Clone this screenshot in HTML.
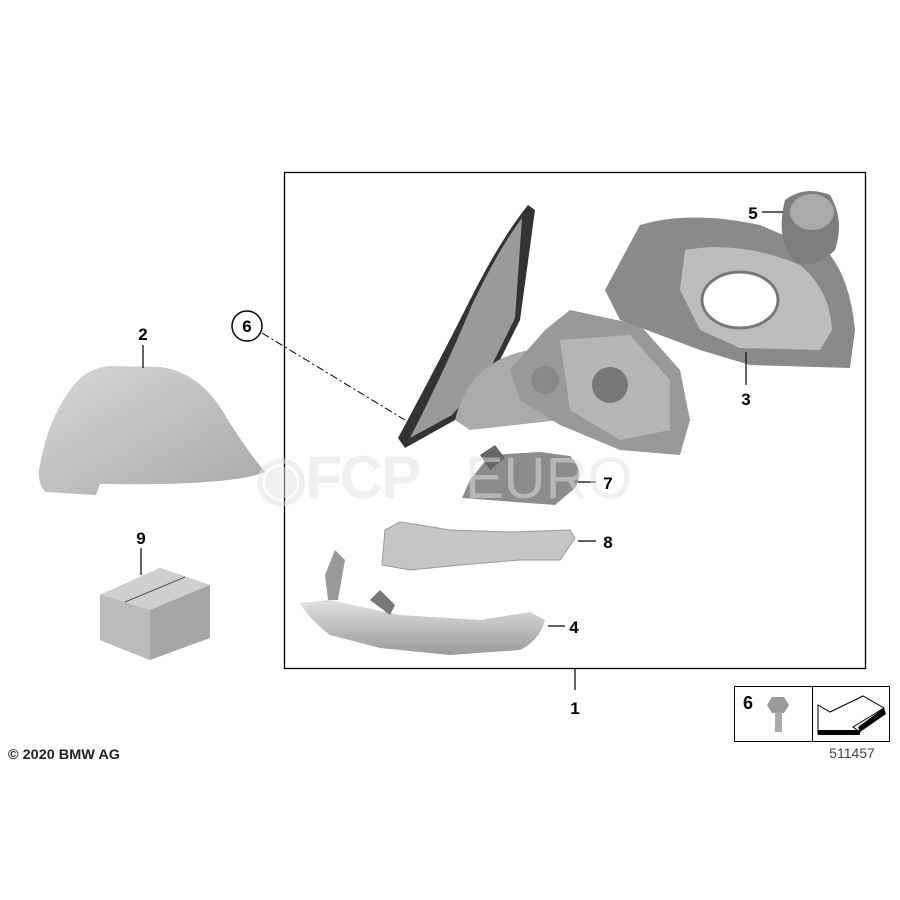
<!DOCTYPE html>
<html><head><style>
html,body{margin:0;padding:0;background:#fff;}
svg{display:block;font-family:"Liberation Sans",sans-serif;}
</style></head><body>
<svg width="900" height="900" viewBox="0 0 900 900" xmlns="http://www.w3.org/2000/svg">
<defs>
<linearGradient id="g1" x1="0" y1="0" x2="1" y2="1"><stop offset="0" stop-color="#d8d8d8"/><stop offset="1" stop-color="#a8a8a8"/></linearGradient>
<linearGradient id="g2" x1="0" y1="0" x2="0" y2="1"><stop offset="0" stop-color="#e2e2e2"/><stop offset="1" stop-color="#9a9a9a"/></linearGradient>
</defs>
<rect width="900" height="900" fill="#fff"/>
<rect x="284.5" y="172.5" width="581" height="496" fill="none" stroke="#000" stroke-width="1.3"/>
<line x1="575" y1="669" x2="575" y2="690" stroke="#000" stroke-width="1.2"/>
<!-- cap 2 -->
<path d="M40,465 Q48,420 70,390 Q85,368 110,366 L160,367 Q200,372 225,415 Q245,448 265,472 Q230,486 100,484 L96,495 L45,492 Q36,480 40,465 Z" fill="url(#g1)"/>
<line x1="143" y1="345" x2="143" y2="368" stroke="#000" stroke-width="1.2"/>
<text x="143" y="340" font-size="17" font-weight="bold" text-anchor="middle">2</text>
<!-- box 9 -->
<polygon points="100,595 160,568 210,585 210,638 150,660 100,640" fill="#a5a5a5"/>
<polygon points="100,595 160,568 210,585 150,610" fill="#cfcfcf"/>
<polygon points="100,595 150,610 150,660 100,640" fill="#bbb"/>
<line x1="125" y1="602" x2="185" y2="577" stroke="#555"/>
<line x1="141" y1="548" x2="141" y2="575" stroke="#000" stroke-width="1.2"/>
<text x="141" y="544" font-size="17" font-weight="bold" text-anchor="middle">9</text>
<!-- mirror base triangle -->
<path d="M528,205 L535,210 L520,320 L490,380 L455,420 L405,448 L398,438 Q440,360 470,300 Q500,240 528,205 Z" fill="#333"/>
<path d="M522,218 L515,318 L487,375 L452,415 L410,438 Q445,370 472,305 Q498,250 522,218 Z" fill="#9a9a9a"/>
<path d="M455,420 Q470,360 530,350 L570,360 L560,420 L470,430 Z" fill="#aaa"/>
<!-- glass holder -->
<path d="M545,330 L570,310 L640,325 L680,370 L690,420 L680,455 L620,450 L560,425 L520,400 L510,370 Z" fill="#999"/>
<path d="M560,340 L630,335 L670,380 L670,430 L620,440 L570,410 Z" fill="#b5b5b5"/>
<circle cx="545" cy="380" r="14" fill="#888"/>
<circle cx="610" cy="385" r="18" fill="#777"/>
<!-- housing 3 -->
<path d="M605,290 L640,225 Q690,210 760,225 L830,255 Q850,280 855,330 L850,368 L750,365 L700,350 L620,320 Z" fill="#8a8a8a"/>
<path d="M685,250 Q740,240 800,265 Q830,290 832,330 L820,350 L740,348 L700,330 L680,290 Z" fill="#bdbdbd"/>
<ellipse cx="740" cy="300" rx="38" ry="28" fill="#fff" stroke="#777" stroke-width="3"/>
<line x1="746" y1="352" x2="746" y2="385" stroke="#000" stroke-width="1.2"/>
<text x="746" y="405" font-size="17" font-weight="bold" text-anchor="middle">3</text>
<!-- motor 5 -->
<path d="M785,200 Q805,185 830,195 Q845,220 835,250 Q815,270 795,262 Q775,240 785,200 Z" fill="#7d7d7d"/>
<ellipse cx="812" cy="212" rx="22" ry="18" fill="#aaa"/>
<line x1="762" y1="212" x2="783" y2="212" stroke="#000" stroke-width="1.2"/>
<text x="753" y="219" font-size="17" font-weight="bold" text-anchor="middle">5</text>
<!-- callout 6 -->
<circle cx="247" cy="326" r="15" fill="#fff" stroke="#000" stroke-width="1.5"/>
<text x="247" y="332" font-size="17" font-weight="bold" text-anchor="middle">6</text>
<line x1="262" y1="333" x2="405" y2="420" stroke="#000" stroke-width="1" stroke-dasharray="8,3,2,3"/>
<!-- part 7 -->
<path d="M470,480 L490,455 L540,452 L570,456 Q585,470 575,488 L555,505 L462,498 Z" fill="#8c8c8c"/>
<path d="M480,455 L495,445 L505,458 L490,470 Z" fill="#666"/>
<line x1="578" y1="482" x2="596" y2="482" stroke="#000" stroke-width="1.2"/>
<text x="608" y="489" font-size="17" font-weight="bold" text-anchor="middle">7</text>
<!-- part 8 -->
<path d="M385,530 L400,522 L420,525 L450,530 L510,532 L570,530 L575,538 L560,560 L520,560 L460,565 L410,570 L382,565 Z" fill="#c6c6c6" stroke="#999"/>
<line x1="578" y1="541" x2="596" y2="541" stroke="#000" stroke-width="1.2"/>
<text x="608" y="548" font-size="17" font-weight="bold" text-anchor="middle">8</text>
<!-- part 4 -->
<path d="M300,603 L330,600 L400,615 L480,620 L530,612 L545,620 Q540,640 520,650 L450,655 L380,648 L330,635 Q310,620 300,603 Z" fill="url(#g2)"/>
<path d="M325,575 L335,550 L345,560 L338,600 L328,600 Z" fill="#999"/>
<path d="M370,600 L380,590 L395,605 L390,615 Z" fill="#777"/>
<line x1="548" y1="626" x2="565" y2="626" stroke="#000" stroke-width="1.2"/>
<text x="574" y="633" font-size="17" font-weight="bold" text-anchor="middle">4</text>
<text x="575" y="714" font-size="17" font-weight="bold" text-anchor="middle">1</text>
<!-- watermark -->
<text x="255" y="498" font-size="60" fill="#e2e2e2" fill-opacity="0.5" font-weight="bold" letter-spacing="-2">◉FCP</text>
<text x="465" y="498" font-size="58" fill="#e2e2e2" fill-opacity="0.5">EURO</text>
<!-- small box -->
<rect x="734.5" y="686.5" width="155" height="55" fill="#fff" stroke="#000" stroke-width="1"/>
<line x1="812.5" y1="687" x2="812.5" y2="741" stroke="#000"/>
<text x="743" y="709" font-size="18" font-weight="bold">6</text>
<polygon points="767,705 772,697 784,697 789,705 784,713 772,713" fill="#999"/>
<rect x="775" y="712" width="7" height="20" fill="#aaa"/>
<polygon points="818,705 830,712 863,696 884,708 853,727 860,732 818,734 818,718" fill="#fff" stroke="#000" stroke-width="1"/>
<rect x="818" y="730" width="42" height="5" fill="#000"/>
<polygon points="858,727 884,708 886,714 860,732" fill="#000"/>
<text x="852" y="758" font-size="14" fill="#444" text-anchor="middle">511457</text>
<text x="8" y="759" font-size="14" font-weight="bold" fill="#222" textLength="112" lengthAdjust="spacingAndGlyphs">© 2020 BMW AG</text>
</svg>
</body></html>
